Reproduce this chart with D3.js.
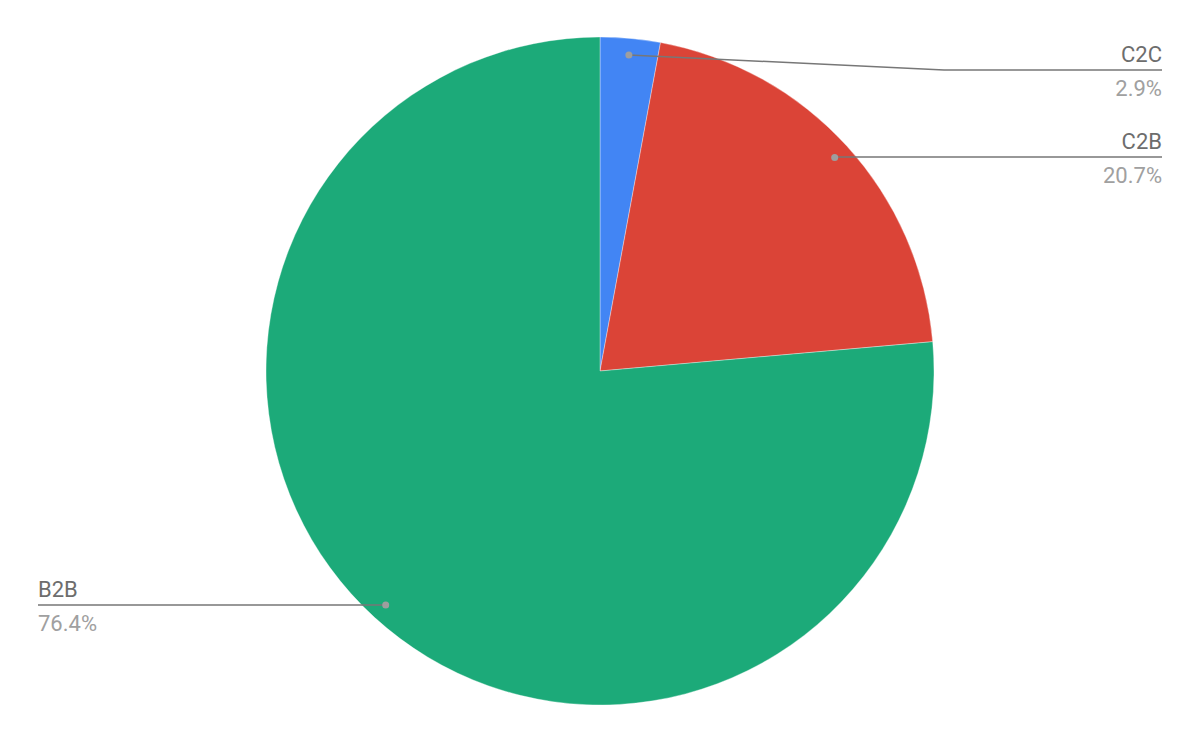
<!DOCTYPE html>
<html>
<head>
<meta charset="utf-8">
<script src="https://cdn.jsdelivr.net/npm/d3@7"></script>
<style>
  body { margin: 0; background: #fff; }
  text { font-family: Roboto, "Noto Sans", sans-serif; }
</style>
</head>
<body>
<div id="chart"></div>
<script>
var w = 1200;
var h = 742;

// data
var categories = ["C2C", "C2B", "B2B"];
var values = [2.9, 20.7, 76.4];
var colors = ["#4285f4", "#db4437", "#1caa79"];

var cx = 600, cy = 371, r = 334;

var svg = d3.select("#chart")
            .append("svg")
            .attr("width", w)
            .attr("height", h);

var pie = d3.pie().sort(null).value(function(d) { return d.value; });
var arc = d3.arc().innerRadius(0).outerRadius(r);

var data = categories.map(function(c, i) { return {name: c, value: values[i], color: colors[i]}; });
var arcs = pie(data);

var g = svg.append("g").attr("transform", "translate(" + cx + "," + cy + ")");

g.selectAll("path")
  .data(arcs)
  .enter()
  .append("path")
  .attr("d", arc)
  .attr("fill", function(d) { return d.data.color; })
  .attr("stroke", "#fff")
  .attr("stroke-opacity", 0.5)
  .attr("stroke-width", 0.7);

// label layout: where the leader line bends and which side it goes
var labelSide = [1, 1, -1];
var labelY = [70, 157, 605];   // y of the horizontal part of each leader line
var labelX = [1162, 1162, 38]; // end of the horizontal part
var bendX = [944, null, null];

var total = d3.sum(values);
arcs.forEach(function(d, i) {
  var mid = (d.startAngle + d.endAngle) / 2;
  var dr = r * 0.95;
  var px = cx + Math.sin(mid) * dr;
  var py = cy - Math.cos(mid) * dr;
  var pts = [[px, py]];
  if (bendX[i] != null) pts.push([bendX[i], labelY[i]]);
  else pts.push([px, labelY[i]]);
  pts.push([labelX[i], labelY[i]]);

  svg.append("path")
    .attr("d", d3.line()(pts))
    .attr("fill", "none")
    .attr("stroke", "#777")
    .attr("stroke-width", 1.5);

  svg.append("circle")
    .attr("cx", px)
    .attr("cy", py)
    .attr("r", 3.5)
    .attr("fill", "#9e9e9e");

  var anchor = labelSide[i] > 0 ? "end" : "start";
  svg.append("text")
    .attr("x", labelX[i])
    .attr("y", labelY[i] - 8)
    .attr("text-anchor", anchor)
    .attr("font-size", 22)
    .attr("fill", "#6d6d6d")
    .text(d.data.name);
  svg.append("text")
    .attr("x", labelX[i])
    .attr("y", labelY[i] + 26)
    .attr("text-anchor", anchor)
    .attr("font-size", 22)
    .attr("fill", "#a0a0a0")
    .text((d.data.value / total * 100).toFixed(1) + "%");
});
</script>
</body>
</html>
